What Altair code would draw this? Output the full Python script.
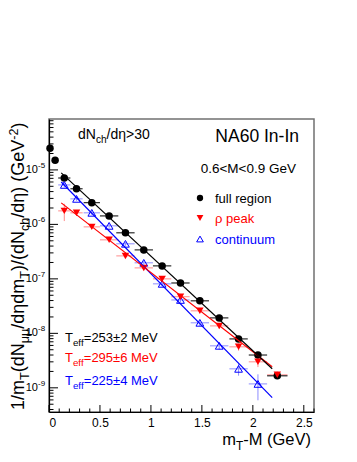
import altair as alt
import pandas as pd

FONT = "Liberation Sans"

# ---------------- data ----------------
black_x = [0.01, 0.06, 0.15, 0.27, 0.42, 0.59, 0.75, 0.93, 1.11, 1.29, 1.48, 1.67, 1.86, 2.05, 2.24]
black_xerr = [0.01, 0.03, 0.06, 0.06, 0.08, 0.09, 0.09, 0.09, 0.09, 0.09, 0.09, 0.09, 0.09, 0.09, 0.10]
black_y = [2.5e-5, 1.5e-5, 7.1e-6, 4.5e-6, 2.5e-6, 1.43e-6, 7.0e-7, 3.4e-7, 1.73e-7, 8.4e-8,
           3.95e-8, 1.92e-8, 7.9e-9, 4.0e-9, 1.66e-9]
black_rel = [0.04, 0.04, 0.05, 0.05, 0.05, 0.05, 0.05, 0.05, 0.05, 0.05, 0.06, 0.06, 0.08, 0.10, 0.12]

red_x = [0.15, 0.27, 0.42, 0.59, 0.75, 0.93, 1.11, 1.29, 1.48, 1.67, 1.86, 2.05, 2.24]
red_xerr = [0.06, 0.06, 0.08, 0.09, 0.09, 0.09, 0.09, 0.09, 0.09, 0.09, 0.09, 0.09, 0.10]
red_y = [1.77e-6, 1.63e-6, 9.0e-7, 5.2e-7, 2.64e-7, 1.59e-7, 1.0e-7, 4.7e-8, 2.59e-8, 1.37e-8,
         5.65e-9, 3.0e-9, 1.73e-9]
red_rel = [0.35, 0.12, 0.08, 0.06, 0.06, 0.06, 0.06, 0.07, 0.08, 0.10, 0.15, 0.20, 0.15]

blue_x = [0.15, 0.27, 0.42, 0.59, 0.75, 0.93, 1.11, 1.29, 1.48, 1.67, 1.86, 2.05]
blue_xerr = [0.06, 0.06, 0.08, 0.09, 0.09, 0.09, 0.09, 0.09, 0.09, 0.09, 0.09, 0.09]
blue_y = [5.3e-6, 2.94e-6, 1.63e-6, 9.4e-7, 4.4e-7, 1.97e-7, 8.1e-8, 4.1e-8, 1.56e-8, 5.9e-9,
          2.23e-9, 1.18e-9]
blue_rel = [0.10, 0.08, 0.08, 0.08, 0.08, 0.08, 0.10, 0.10, 0.12, 0.15, 0.25, 0.50]

fit_x = [0.12, 2.19]
fit_black = [8.8e-6, 2.24e-9]
fit_red = [2.48e-6, 2.43e-9]
fit_blue = [6.0e-6, 6.6e-10]

x_major = [0, 0.5, 1, 1.5, 2, 2.5]
x_minor = [0.1, 0.2, 0.3, 0.4, 0.6, 0.7, 0.8, 0.9, 1.1, 1.2, 1.3, 1.4, 1.6, 1.7, 1.8, 1.9,
           2.1, 2.2, 2.3, 2.4, 2.6]
y_decades = [1e-9, 1e-8, 1e-7, 1e-6, 1e-5]
y_exps = ["-9", "-8", "-7", "-6", "-5"]
y_minor_mult = [2, 3, 4, 5, 6, 7, 8, 9]

X_DOMAIN = [0, 2.6]
Y_DOMAIN = [3.6e-10, 8.6e-5]

W, H = 265, 293

# ---------------- scales / axes ----------------
XS = alt.Scale(domain=X_DOMAIN, nice=False, zero=False)
YS = alt.Scale(type="log", domain=Y_DOMAIN, nice=False)
XA = alt.Axis(values=x_major, format="~g", ticks=False, grid=False, title=None,
              labelFont=FONT, labelFontSize=12, labelColor="black", labelPadding=5,
              domainColor="black", domainWidth=1.2)
YA = alt.Axis(labels=False, ticks=False, grid=False, title=None,
              domainColor="black", domainWidth=1.2)


def X(f):
    return alt.X(f, type="quantitative", scale=XS, axis=XA)


def Y(f):
    return alt.Y(f, type="quantitative", scale=YS, axis=YA)


def sdf(x, xe, y, rel):
    return pd.DataFrame({
        "x": x, "y": y,
        "xlo": [a - b for a, b in zip(x, xe)], "xhi": [a + b for a, b in zip(x, xe)],
        "ylo": [a * (1 - r) for a, r in zip(y, rel)], "yhi": [a * (1 + r) for a, r in zip(y, rel)],
    })


dfb = sdf(black_x, black_xerr, black_y, black_rel)
dfr = sdf(red_x, red_xerr, red_y, red_rel)
dfu = sdf(blue_x, blue_xerr, blue_y, blue_rel)

layers = []

# error bars
for d, c in [(dfu, "#8c8cff"), (dfr, "#ff8c8c"), (dfb, "#000000")]:
    layers.append(alt.Chart(d).mark_rule(color=c, strokeWidth=1).encode(
        x=X("xlo"), x2="xhi", y=Y("y")))
    layers.append(alt.Chart(d).mark_rule(color=c, strokeWidth=1).encode(
        x=X("x"), y=Y("ylo"), y2="yhi"))

# points
layers.append(alt.Chart(dfb).mark_point(shape="circle", filled=True, size=56, color="black",
                                        opacity=1).encode(x=X("x"), y=Y("y")))
layers.append(alt.Chart(dfu).mark_point(shape="triangle-up", filled=False, size=60, color="#0000ff",
                                        strokeWidth=1, opacity=1).encode(x=X("x"), y=Y("y")))
layers.append(alt.Chart(dfr).mark_point(shape="triangle-down", filled=True, size=56, color="#ff0000",
                                        opacity=1).encode(x=X("x"), y=Y("y")))

# fit lines
for fy, c in [(fit_blue, "#0000ff"), (fit_red, "#ff0000"), (fit_black, "#000000")]:
    layers.append(alt.Chart(pd.DataFrame({"x": fit_x, "y": fy})).mark_line(
        color=c, strokeWidth=1.2).encode(x=X("x"), y=Y("y")))

# inside ticks
ymin = [m * d for d in [1e-10] + y_decades for m in y_minor_mult if Y_DOMAIN[0] <= m * d <= Y_DOMAIN[1]]
layers.append(alt.Chart(pd.DataFrame({"v": y_decades})).mark_rule(color="black").encode(
    y=Y("v"), x=alt.value(0), x2=alt.value(9)))
layers.append(alt.Chart(pd.DataFrame({"v": ymin})).mark_rule(color="black").encode(
    y=Y("v"), x=alt.value(0), x2=alt.value(4.5)))
layers.append(alt.Chart(pd.DataFrame({"v": x_major})).mark_rule(color="black").encode(
    x=X("v"), y=alt.value(H), y2=alt.value(H - 7)))
layers.append(alt.Chart(pd.DataFrame({"v": x_minor})).mark_rule(color="black").encode(
    x=X("v"), y=alt.value(H), y2=alt.value(H - 3.5)))

# y tick labels 10^n
ylab = pd.DataFrame({"v": y_decades, "e": y_exps, "b": ["10"] * len(y_decades)})
layers.append(alt.Chart(ylab).mark_text(align="right", baseline="middle", font=FONT, fontSize=11,
                                        color="black").encode(y=Y("v"), x=alt.value(-11), text="b:N"))
layers.append(alt.Chart(ylab).mark_text(align="left", baseline="middle", font=FONT, fontSize=8,
                                        color="black", dy=-4).encode(y=Y("v"), x=alt.value(-11), text="e:N"))

# ---------------- rich text helper ----------------
CW = {' ': 278, '(': 333, ')': 333, '-': 333, '.': 278, '/': 278, '<': 584, '=': 584, '>': 584,
      '±': 549, 'A': 667, 'G': 778, 'I': 278, 'M': 833, 'N': 722, 'T': 611, 'V': 667, 'c': 500,
      'd': 556, 'e': 556, 'f': 278, 'h': 556, 'm': 833, 'n': 556, 'μ': 576, 'η': 556, 'ρ': 573}


def tw(s, fs):
    return sum(CW.get(ch, 556) for ch in s) * fs / 1000.0


DUMMY = pd.DataFrame({"a": [0]})


def rich(parts, x, y, fs, color, angle=0, align="left", sub=0.72):
    sizes = [fs if k == "n" else fs * sub for _, k in parts]
    widths = [tw(t, s) for (t, _), s in zip(parts, sizes)]
    total = sum(widths)
    s0 = 0 if align == "left" else -total
    out = []
    pos = s0
    for (t, k), sz, w in zip(parts, sizes, widths):
        off = 0 if k == "n" else (0.3 * fs if k == "sub" else -0.33 * fs)
        if angle == 0:
            px, py = x + pos, y + off
        else:
            px, py = x + off, y - pos
        out.append(alt.Chart(DUMMY).mark_text(
            text=t, align="left", baseline="alphabetic", font=FONT, fontSize=sz,
            color=color, angle=angle).encode(x=alt.value(px), y=alt.value(py)))
        pos += w
    return out


# y title
layers += rich([("1/m", "n"), ("T", "sub"), ("(dN", "n"), ("μμ", "sub"), ("/dηdm", "n"),
                ("T", "sub"), (")/(dN", "n"), ("ch", "sub"), ("/dη) (GeV", "n"), ("-2", "sup"),
                (")", "n")],
               -25, 291, 18, "black", angle=270, sub=0.7)
# x title
layers += rich([("m", "n"), ("T", "sub"), ("-M (GeV)", "n")], 262, 326, 16.5, "black", align="right")
# annotations
layers += rich([("dN", "n"), ("ch", "sub"), ("/dη>30", "n")], 29, 20, 14, "black")
layers += rich([("NA60 In-In", "n")], 250, 23, 17.5, "black", align="right")
layers += rich([("0.6<M<0.9 GeV", "n")], 247, 54, 13.5, "black", align="right")
layers += rich([("full region", "n")], 166, 83.5, 13, "black")
layers += rich([("ρ peak", "n")], 166, 103.5, 13, "#ff0000")
layers += rich([("continuum", "n")], 166, 124.5, 13, "#0000ff")
layers += rich([("T", "n"), ("eff", "sub"), ("=253±2 MeV", "n")], 16, 223, 13, "black", sub=0.75)
layers += rich([("T", "n"), ("eff", "sub"), ("=295±6 MeV", "n")], 16, 243, 13, "#ff0000", sub=0.75)
layers += rich([("T", "n"), ("eff", "sub"), ("=225±4 MeV", "n")], 16, 266, 13, "#0000ff", sub=0.75)

# legend markers
layers.append(alt.Chart(DUMMY).mark_point(shape="circle", filled=True, size=40, color="black",
                                          opacity=1).encode(x=alt.value(151), y=alt.value(79)))
layers.append(alt.Chart(DUMMY).mark_point(shape="triangle-down", filled=True, size=45, color="#ff0000",
                                          opacity=1).encode(x=alt.value(151), y=alt.value(99)))
layers.append(alt.Chart(DUMMY).mark_point(shape="triangle-up", filled=False, size=45, color="#0000ff",
                                          strokeWidth=1, opacity=1).encode(x=alt.value(151), y=alt.value(120)))

chart = alt.layer(*layers).properties(
    width=W, height=H,
    padding={"left": 41, "top": 111, "right": 35, "bottom": 42},
    autosize=alt.AutoSizeParams(type="none"),
    background="white",
).configure_view(stroke="#707070", strokeWidth=1.5)

chart.save("out.html", embed_options={"renderer": "svg", "actions": False})
